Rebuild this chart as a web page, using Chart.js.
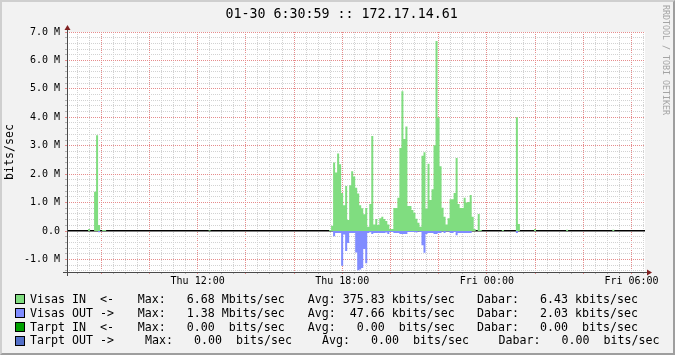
<!DOCTYPE html>
<html>
<head>
<meta charset="utf-8">
<script src="https://cdn.jsdelivr.net/npm/chart.js@4/dist/chart.umd.min.js"></script>
<style>
html,body{margin:0;padding:0;background:#F2F2F2;}
#wrap{position:relative;width:675px;height:355px;background:#F2F2F2;overflow:hidden;font-family:"DejaVu Sans Mono",monospace;color:#000;}
#c{position:absolute;left:0;top:0;}
.t{position:absolute;white-space:pre;line-height:1;}
#title{font-size:13.3px;left:225.5px;top:7px;}
#side{position:absolute;left:662px;top:5px;font-size:8.3px;line-height:1;writing-mode:vertical-rl;color:#A4A4A4;white-space:pre;}
.lg{font-size:11.63px;}
.box{position:absolute;left:15px;width:8px;height:8px;border:1px solid #000;}
#frame{position:absolute;left:0;top:0;width:675px;height:355px;box-sizing:border-box;border:2px solid;border-color:#CFCFCF #9E9E9E #9E9E9E #CFCFCF;pointer-events:none;}
</style>
</head>
<body>
<div id="wrap">
  <canvas id="c" width="675" height="355"></canvas>
  <div id="title" class="t"></div>
  <div id="side"></div>
  <div id="legend"></div>
  <div id="frame"></div>
</div>
<script>
// ---------------- data (Mbits/sec, one value per 5-minute sample) ----------------
const titleText = '01-30 6:30:59 :: 172.17.14.61';
const sideText = 'RRDTOOL / TOBI OETIKER';
const yAxisTitle = 'bits/sec';

// 288 samples starting Thu 06:37, every 5 minutes
const visasIn = [
  0,0,0,0,0,0,0,0,0,0,0.07,0,0,1.38,3.37,0.21,0,0.04,0.04,0,0,0,0,0,
  0,0,0,0,0,0,0,0,0,0,0,0,0,0,0,0,0,0,0,0,0,0,0,0,
  0,0,0,0,0,0,0,0,0,0,0,0,0,0,0,0,0,0,0,0,0,0,0.03,0,
  0,0,0,0,0,0,0,0,0,0,0,0,0,0,0,0,0,0,0,0,0,0,0,0,
  0,0,0,0,0,0,0,0,0,0,0,0,0,0,0,0,0,0,0,0,0,0,0,0,
  0,0,0,0,0,0,0,0,0,0,0.04,0.19,2.41,2.06,2.73,2.35,1.34,0.91,1.58,0.39,1.61,2.10,1.92,1.52,
  1.32,0.91,0.80,0.59,0.81,0.15,0.95,3.34,0.23,0.42,0.21,0.45,0.50,0.42,0.35,0.23,0.07,0.07,0.81,0.81,1.17,2.92,4.92,3.24,
  3.68,0.88,0.88,0.74,0.64,0.43,0.29,0.15,2.65,2.77,0.78,2.37,1.09,1.47,3.02,6.68,4.00,2.28,0.82,0.50,0.23,0.45,1.12,1.12,
  1.34,2.57,0.95,0.81,0.81,1.17,1.00,1.02,1.27,0.50,0.07,0,0.60,0.04,0,0,0,0,0,0,0,0,0,0,
  0.04,0,0,0,0,0,0,4.00,0.25,0,0,0,0,0,0,0,0.07,0,0,0,0,0,0,0,
  0,0,0,0,0,0,0,0,0.05,0,0,0,0,0,0,0,0,0,0,0,0,0,0,0,
  0,0,0,0,0,0,0,0.05,0,0,0,0,0,0,0,0,0,0,0,0,0,0,0,0
];
const visasOut = [
  0,0,0,0,0,0,0,0,0,0,0,0,0,0,0,0.04,0,0,0,0,0,0,0,0,
  0,0,0,0,0,0,0,0,0,0,0,0,0,0,0,0,0,0,0,0,0,0,0,0,
  0,0,0,0,0,0,0,0,0,0,0,0,0,0,0,0,0,0,0,0,0,0,0,0,
  0,0,0,0,0,0,0,0,0,0,0,0,0,0,0,0,0,0,0,0,0,0,0,0,
  0,0,0,0,0,0,0,0,0,0,0,0,0,0,0,0,0,0,0,0,0,0,0,0,
  0,0,0,0,0,0,0,0,0,0,0,0.02,0.18,0.07,0.07,0.07,1.22,0.12,0.70,0.42,0.07,0.07,0.07,0.75,
  1.38,1.35,1.30,0.63,1.13,0.07,0.04,0.10,0.07,0.07,0.07,0.07,0.07,0.07,0.05,0.10,0.03,0.03,0.07,0.07,0.07,0.10,0.10,0.10,
  0.10,0.03,0.03,0.03,0.03,0.05,0.02,0.03,0.50,0.76,0.10,0.07,0.07,0.07,0.10,0.10,0.07,0.07,0.02,0.07,0.02,0.02,0.07,0.07,
  0.03,0.15,0.07,0.07,0.07,0.07,0.07,0.07,0.07,0,0,0,0,0,0,0,0,0,0,0,0,0,0,0,
  0,0,0,0,0,0,0,0.07,0,0,0,0,0,0,0,0,0,0,0,0,0,0,0,0,
  0,0,0,0,0,0,0,0,0,0,0,0,0,0,0,0,0,0,0,0,0,0,0,0,
  0,0,0,0,0,0,0,0,0,0,0,0,0,0,0,0,0,0,0,0,0,0,0,0
];

// time axis (hours since Thu 00:00)
const xTickHours  = [12, 18, 24, 30];
const xTickLabels = ['Thu 12:00', 'Thu 18:00', 'Fri 00:00', 'Fri 06:00'];
// value axis (Mbits/sec)
const yTickValues = [-1, 0, 1, 2, 3, 4, 5, 6, 7];
const yTickLabels = ['-1.0 M', '0.0', '1.0 M', '2.0 M', '3.0 M', '4.0 M', '5.0 M', '6.0 M', '7.0 M'];

// legend
const seriesNames  = ['Visas IN  <-', 'Visas OUT ->', 'Tarpt IN  <-', 'Tarpt OUT ->'];
const seriesColors = ['#80DD80', '#808CFF', '#00A000', '#5470C8'];
const statMax  = ['  6.68 Mbits/sec', '  1.38 Mbits/sec', '  0.00  bits/sec', '  0.00  bits/sec'];
const statAvg  = ['375.83 kbits/sec', ' 47.66 kbits/sec', '  0.00  bits/sec', '  0.00  bits/sec'];
const statLast = ['  6.43 kbits/sec', '  2.03 kbits/sec', '  0.00  bits/sec', '  0.00  bits/sec'];

// ---------------- layout / style ----------------
const SAMPLE_START_HOUR = 6.62;
const SAMPLE_STEP_HOURS = 5 / 60;
const X_MIN = 6.58, X_MAX = 30.56;
const Y_MIN = -1.44, Y_MAX = 7.0;
const FONT = '"DejaVu Sans Mono", monospace';
const GRID = '#D2D2D2';
const GRID_TICK = '#B4B4B4';
const MGRID = '#E68C8C';
const NONE = 'rgba(0,0,0,0)';

document.getElementById('title').textContent = titleText;
document.getElementById('side').textContent = sideText;

const legendCols = [[30, 137.7, 307.8, 477], [30, 137.7, 307.8, 477], [30, 137.7, 307.8, 477], [30, 145, 322, 498.5]];
const legendTops = [293.5, 307.6, 321.6, 335.4];
const lg = document.getElementById('legend');
seriesNames.forEach((name, i) => {
  const b = document.createElement('div');
  b.className = 'box';
  b.style.top = (legendTops[i] + 0.5) + 'px';
  b.style.background = seriesColors[i];
  lg.appendChild(b);
  const parts = [name, 'Max: ' + statMax[i], 'Avg: ' + statAvg[i], 'Dabar: ' + statLast[i]];
  parts.forEach((p, j) => {
    const d = document.createElement('div');
    d.className = 't lg';
    d.style.left = legendCols[i][j] + 'px';
    d.style.top = legendTops[i] + 'px';
    d.textContent = p;
    lg.appendChild(d);
  });
});

function stepPoints(values, sign) {
  const pts = values.map((v, k) => ({ x: SAMPLE_START_HOUR + k * SAMPLE_STEP_HOURS, y: sign * v }));
  pts.push({ x: SAMPLE_START_HOUR + values.length * SAMPLE_STEP_HOURS, y: sign * values[values.length - 1] });
  return pts;
}

const isInt = v => Math.abs(v - Math.round(v)) < 1e-6;
const isEven = v => isInt(v / 2);

const rrdDecor = {
  id: 'rrdDecor',
  beforeDraw(chart) {
    const { ctx, chartArea: a } = chart;
    ctx.save();
    ctx.fillStyle = '#FFFFFF';
    ctx.fillRect(a.left, a.top, a.right - a.left, a.bottom - a.top);
    ctx.restore();
  },
  afterDraw(chart) {
    const { ctx, chartArea: a } = chart;
    ctx.save();
    ctx.strokeStyle = '#4A4A4A';
    ctx.lineWidth = 1;
    ctx.beginPath();
    ctx.moveTo(a.left - 4, a.bottom + 0.5);
    ctx.lineTo(a.right + 4, a.bottom + 0.5);
    ctx.moveTo(a.left + 0.5, a.bottom + 4);
    ctx.lineTo(a.left + 0.5, a.top - 4);
    ctx.stroke();
    ctx.fillStyle = '#801F1F';
    ctx.beginPath();
    ctx.moveTo(a.right + 2, a.bottom - 3 + 0.5);
    ctx.lineTo(a.right + 2, a.bottom + 3 + 0.5);
    ctx.lineTo(a.right + 7, a.bottom + 0.5);
    ctx.closePath();
    ctx.fill();
    ctx.beginPath();
    ctx.moveTo(a.left - 3 + 0.5, a.top - 2);
    ctx.lineTo(a.left + 3 + 0.5, a.top - 2);
    ctx.lineTo(a.left + 0.5, a.top - 7);
    ctx.closePath();
    ctx.fill();
    ctx.restore();
  }
};

const common = { type: 'linear', min: X_MIN, max: X_MAX };
const commonY = { type: 'linear', min: Y_MIN, max: Y_MAX };

new Chart(document.getElementById('c'), {
  type: 'line',
  data: {
    datasets: [
      {
        label: 'Visas IN', data: stepPoints(visasIn, 1), stepped: 'before', fill: 'origin',
        backgroundColor: seriesColors[0], borderColor: NONE, borderWidth: 0, pointRadius: 0,
        xAxisID: 'xGrid', yAxisID: 'yGrid'
      },
      {
        label: 'Visas OUT', data: stepPoints(visasOut, -1), stepped: 'before', fill: 'origin',
        backgroundColor: seriesColors[1], borderColor: NONE, borderWidth: 0, pointRadius: 0,
        xAxisID: 'xGrid', yAxisID: 'yGrid'
      }
    ]
  },
  options: {
    responsive: false, animation: false, devicePixelRatio: 1,
    layout: { padding: { left: 0, top: 32, right: 30, bottom: 0 } },
    plugins: { legend: { display: false }, tooltip: { enabled: false }, title: { display: false } },
    scales: {
      // 30-minute grey grid, 2-hour red grid
      xGrid: Object.assign({}, common, {
        position: 'bottom', weight: 0,
        ticks: { display: false, stepSize: 0.5, includeBounds: false },
        grid: {
          color: c => isEven(c.tick.value) ? MGRID : GRID,
          tickColor: c => isEven(c.tick.value) ? MGRID : GRID_TICK,
          tickLength: 2, lineWidth: 1
        },
        border: { display: false, dash: [1, 1] },
        afterFit: s => { s.height = 0; }
      }),
      // 0.2 M grey grid, 1 M red grid
      yGrid: Object.assign({}, commonY, {
        position: 'left', weight: 0,
        ticks: { display: false, stepSize: 0.2, includeBounds: false },
        grid: {
          color: c => isInt(c.tick.value) ? (Math.abs(c.tick.value) < 1e-6 ? NONE : MGRID) : GRID,
          tickColor: c => isInt(c.tick.value) ? MGRID : GRID_TICK,
          tickLength: 2, lineWidth: 1
        },
        border: { display: false, dash: [1, 1] },
        afterFit: s => { s.width = 0; }
      }),
      yLabel: Object.assign({}, commonY, {
        position: 'left', weight: 1,
        afterBuildTicks: s => { s.ticks = yTickValues.map(v => ({ value: v })); },
        ticks: { callback: (v, i) => yTickLabels[i], font: { family: FONT, size: 10 }, color: '#000', padding: 7 },
        grid: { display: false, drawTicks: false },
        border: { display: false },
        title: { display: true, text: yAxisTitle, font: { family: FONT, size: 11.6 }, color: '#000', padding: { top: 3, bottom: 0 } },
        afterFit: s => { s.width = 67; }
      }),
      xLabel: Object.assign({}, common, {
        position: 'bottom', weight: 1,
        afterBuildTicks: s => { s.ticks = xTickHours.map(v => ({ value: v })); },
        ticks: { callback: (v, i) => xTickLabels[i], font: { family: FONT, size: 10 }, color: '#000', padding: 3, maxRotation: 0, autoSkip: false },
        grid: { display: false, drawTicks: false },
        border: { display: false },
        afterFit: s => { s.height = 83; }
      }),
      yZero: Object.assign({}, commonY, {
        position: 'left', weight: 0, z: 1,
        afterBuildTicks: s => { s.ticks = [{ value: 0 }]; },
        ticks: { display: false },
        grid: { color: '#000', lineWidth: 1.4, drawTicks: false },
        border: { display: false },
        afterFit: s => { s.width = 0; }
      })
    }
  },
  plugins: [rrdDecor]
});
</script>
</body>
</html>
